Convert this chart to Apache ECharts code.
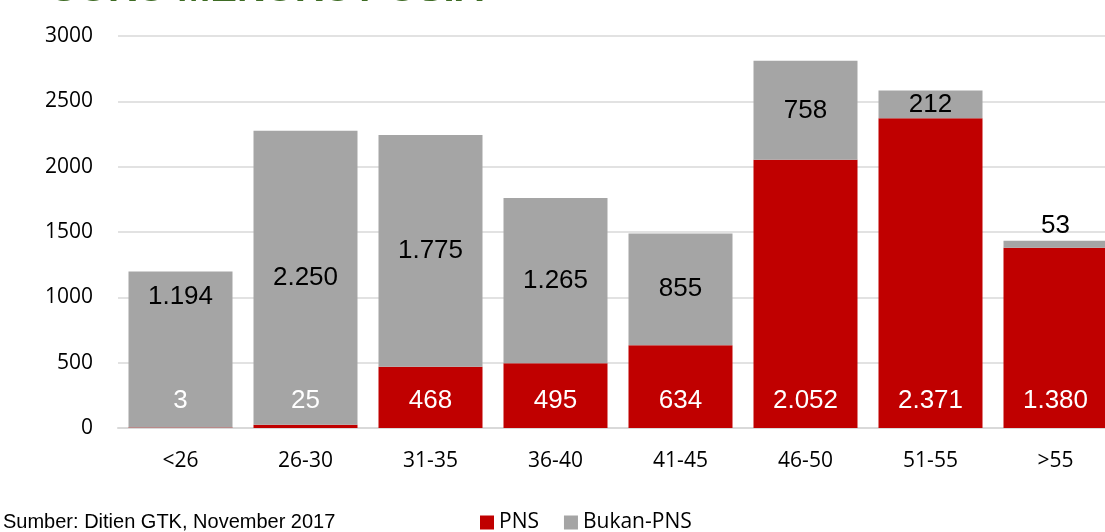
<!DOCTYPE html>
<html>
<head>
    <meta charset="utf-8">
    <script src="https://cdn.jsdelivr.net/npm/echarts@6/dist/echarts.min.js"></script>
    <style>
        html, body { margin: 0; padding: 0; background: #fff; }
    </style>
</head>
<body>
    <div id="main" style="width: 1105px;height:532px;"></div>
    <script type="text/javascript">
        // data
        var categories = ['<26', '26-30', '31-35', '36-40', '41-45', '46-50', '51-55', '>55'];
        var pns = [3, 25, 468, 495, 634, 2052, 2371, 1380];
        var bukanPns = [1194, 2250, 1775, 1265, 855, 758, 212, 53];
        var yTicks = [0, 500, 1000, 1500, 2000, 2500, 3000];

        // angka pakai titik sebagai pemisah ribuan
        function fmt(v) {
            return String(v).replace(/\B(?=(\d{3})+(?!\d))/g, '.');
        }

        var bukanData = bukanPns.map(function (v, i) {
            var d = { value: v };
            if (i === 0) {
                d.label = { offset: [0, -53] };
            }
            if (i === bukanPns.length - 1) {
                d.label = { position: 'top', distance: 2 };
            }
            return d;
        });

        var myChart = echarts.init(document.getElementById('main'));
        var option = {
            animation: false,
            textStyle: { fontFamily: 'Open Sans' },
            grid: {
                left: 118, width: 1000, top: 36, bottom: 104,
                containLabel: false, outerBoundsMode: 'none'
            },
            legend: {
                left: 475,
                top: 507,
                itemWidth: 14,
                itemHeight: 14,
                itemGap: 25,
                icon: 'rect',
                textStyle: { fontFamily: 'Open Sans', fontSize: 21, color: '#000' },
                data: ['PNS', 'Bukan-PNS']
            },
            graphic: [
                {
                    // judul terpotong di atas, cuma bagian bawahnya kelihatan
                    type: 'text',
                    x: 48,
                    y: -30,
                    style: {
                        text: 'GURU MENURUT USIA',
                        font: 'bold 40px "Liberation Sans"',
                        fill: '#3e6b24'
                    }
                },
                {
                    type: 'text',
                    left: 3,
                    top: 512,
                    style: {
                        text: 'Sumber: Ditien GTK, November 2017',
                        font: '20px "Liberation Sans"',
                        fill: '#000'
                    }
                }
            ],
            xAxis: {
                type: 'category',
                data: categories,
                axisLine: { lineStyle: { color: '#d9d9d9', width: 2 } },
                axisTick: { show: false },
                axisLabel: { margin: 23, fontSize: 21, color: '#000', fontFamily: 'Open Sans' }
            },
            yAxis: {
                type: 'value',
                min: yTicks[0],
                max: yTicks[yTicks.length - 1],
                interval: 500,
                axisLine: { show: false },
                axisTick: { show: false },
                splitLine: { lineStyle: { color: '#d9d9d9', width: 1.5 } },
                axisLabel: {
                    margin: 25, fontSize: 21, color: '#000', fontFamily: 'Open Sans',
                    formatter: function (v) { return String(v); }
                }
            },
            series: [
                {
                    name: 'PNS',
                    type: 'bar',
                    stack: 'total',
                    data: pns,
                    barCategoryGap: '16.8%',
                    itemStyle: { color: '#c00000' },
                    label: {
                        show: true,
                        position: 'insideBottom',
                        distance: 14,
                        color: '#fff',
                        fontSize: 26,
                        fontFamily: 'Liberation Sans',
                        formatter: function (p) { return fmt(p.value); }
                    }
                },
                {
                    name: 'Bukan-PNS',
                    type: 'bar',
                    stack: 'total',
                    data: bukanData,
                    itemStyle: { color: '#a5a5a5' },
                    label: {
                        show: true,
                        position: 'inside',
                        color: '#000',
                        fontSize: 26,
                        fontFamily: 'Liberation Sans',
                        formatter: function (p) { return fmt(p.value); }
                    }
                }
            ]
        };
        myChart.setOption(option);
    </script>
</body>
</html>
